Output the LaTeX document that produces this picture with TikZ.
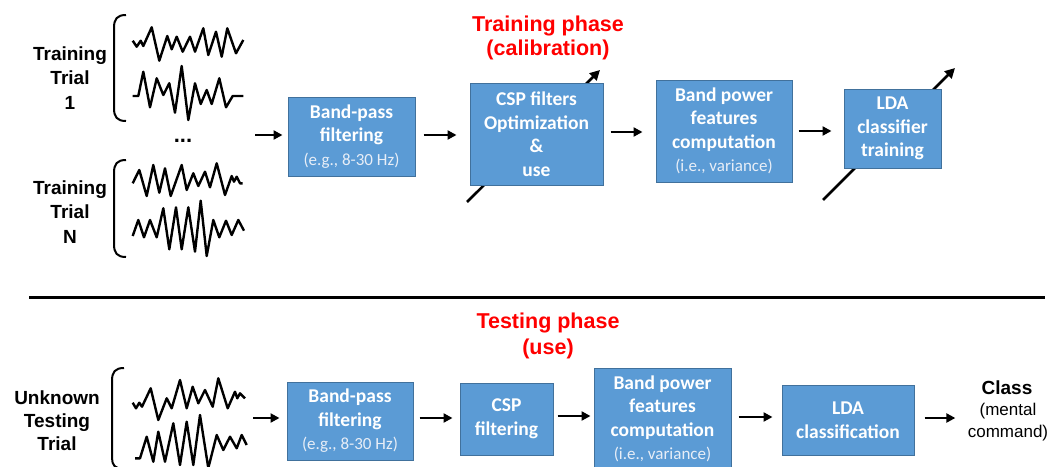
\documentclass[tikz,border=0pt]{standalone}
\usepackage{fontspec}
\setmainfont{Liberation Sans}
\newfontfamily\boxfnt{Carlito}
\usetikzlibrary{arrows.meta}
\definecolor{boxblue}{RGB}{91,155,213}
\definecolor{boxedge}{RGB}{65,113,156}
\definecolor{parenc}{RGB}{232,238,247}
\definecolor{phasered}{RGB}{255,0,0}
\newcommand{\pline}[1]{{\mdseries\fontsize{17}{23.5}\selectfont\color{parenc}#1}}
\tikzset{
  blk/.style={draw=boxedge, line width=1pt, fill=boxblue, text=white, align=center,
    inner sep=0pt, font=\boxfnt\bfseries\fontsize{19.5}{23.5}\selectfont},
  arr/.style={line width=2.8pt, -{Triangle[length=9pt,width=9pt]}},
  diag/.style={line width=2.6pt, -{Triangle[length=10pt,width=10pt]}},
  wave/.style={line width=2.4pt, line join=round},
  brk/.style={line width=2pt},
  lbl/.style={font=\bfseries\fontsize{19}{24.5}\selectfont, align=center},
  phase/.style={font=\bfseries\fontsize{21.5}{24}\selectfont, align=center, text=phasered},
}
\begin{document}
\begin{tikzpicture}[x=1pt,y=-1pt]
\useasboundingbox (0,0) rectangle (1049,466);
\fill[white] (0,0) rectangle (1049,466);

% ---------- training phase ----------
\node[lbl] (t1) at (70,78) {Training\\Trial\\1};
\node[lbl] (tn) at (70,212) {Training\\Trial\\N};
\node[font=\bfseries\fontsize{22}{24}\selectfont] (dots) at (183,141) {...};

\draw[brk] (126,15) .. controls (117,15) and (114,19) .. (114,28) -- (114,108) .. controls (114,117) and (117,121) .. (126,121);
\draw[brk] (126,160) .. controls (117,160) and (114,164) .. (114,173) -- (114,244) .. controls (114,253) and (117,257) .. (126,257);

\draw[wave] (132.7,40.7) -- (136.7,46.7) -- (140.7,40.7) -- (143.3,46) -- (151.7,27.3) -- (159.3,60.7) -- (167.3,36) -- (171.7,49.3) -- (176.7,36.7) -- (182.7,51.7) -- (190,36.7) -- (195,51.7) -- (203.3,28.3) -- (208.3,55) -- (216,31.7) -- (221.7,56.7) -- (227.3,28.3) -- (236,53.3) -- (243.3,40);
\draw[wave] (132.7,96) -- (138.3,96) -- (143.3,71.7) -- (150,107.3) -- (156.7,78.3) -- (163.3,95) -- (169.3,83.3) -- (175,112.7) -- (181.7,66) -- (188.3,120) -- (195,83.3) -- (200.7,104) -- (206.7,90) -- (211.7,104) -- (219.3,78.3) -- (226,107.3) -- (232.7,96) -- (243.3,96);
\draw[wave] (132.7,183.3) -- (139.3,170) -- (146.7,196) -- (153.3,165) -- (159.3,192.7) -- (165,168.3) -- (170.7,196) -- (181.7,165) -- (186.7,190) -- (193.3,173.3) -- (198.3,186) -- (205,171.7) -- (210,187.3) -- (216.7,163.3) -- (225,195) -- (231.7,176) -- (234,181.7) -- (236.7,176.7) -- (240,183.3) -- (242.7,183.3);
\draw[wave] (132.7,236) -- (138.3,220) -- (144,237.3) -- (150,220) -- (156.7,237.3) -- (163.3,208.3) -- (169.3,249.3) -- (176,207.3) -- (181.7,249.3) -- (188.3,207.3) -- (195,251.7) -- (200.7,200.7) -- (206.7,256) -- (213.3,220) -- (219.3,237.3) -- (226,220.7) -- (231.7,235) -- (238.3,220) -- (244,230.7);

\node[phase] (tp) at (548,38) {Training phase\\(calibration)};

\coordinate (d1s) at (467,202);
\coordinate (d1e) at (600,70);
\coordinate (d2s) at (823,200);
\coordinate (d2e) at (955,68);
\draw[diag] (d1s) -- (d1e);
\draw[diag] (d2s) -- (d2e);

\node[blk, minimum width=127pt, minimum height=79pt] (bp1) at (351.5,136.5) {Band-pass\\filtering\\\pline{(e.g., 8-30 Hz)}};
\node[blk, minimum width=133pt, minimum height=102pt] (csp1) at (536.5,134) {CSP filters\\Optimization\\\&\\use};
\node[blk, minimum width=136pt, minimum height=102pt] (bpw1) at (724,131) {Band power\\features\\computation\\\pline{(i.e., variance)}};
\node[blk, minimum width=97pt, minimum height=79pt] (lda1) at (892.5,128.5) {LDA\\classifier\\training};

\coordinate (sig1) at (255,135);
\draw[arr] (sig1) -- ([xshift=-5pt]sig1 -| bp1.west);
\draw[arr, shorten <=8pt, shorten >=13pt] (bp1.east |- 0,135) -- (csp1.west |- 0,135);
\draw[arr, shorten <=7pt, shorten >=13pt] (csp1.east |- 0,132) -- (bpw1.west |- 0,132);
\draw[arr, shorten <=6pt, shorten >=12pt] (bpw1.east |- 0,131) -- (lda1.west |- 0,131);

% ---------- separator ----------
\coordinate (sepL) at (29,297);
\coordinate (sepR) at (1045,297);
\draw[line width=3pt] (sepL) -- (sepR);

% ---------- testing phase ----------
\node[phase, font=\bfseries\fontsize{21.5}{26}\selectfont] (tsp) at (548,336) {Testing phase\\(use)};

\node[lbl, font=\bfseries\fontsize{19}{23}\selectfont] (ut) at (57,421) {Unknown\\Testing\\Trial};
\draw[brk] (124,368) .. controls (115,368) and (112,372) .. (112,381) -- (112,458) .. controls (112,465) and (115,469) .. (124,469);
\draw[wave] (132.7,402.7) -- (136,408.3) -- (139.3,402.7) -- (142,406.7) -- (150.7,388.3) -- (158.3,420) -- (166.7,398.3) -- (171.7,408.3) -- (180,380) -- (186.7,408.3) -- (192.7,386.7) -- (198.3,403.3) -- (205,390) -- (212.7,406.7) -- (218.3,378.3) -- (227.7,408.3) -- (235,391.7) -- (237.3,398.3) -- (240,393.3) -- (245,398.3);
\draw[wave] (135,458.3) -- (140,458.3) -- (146.7,436.7) -- (153.3,461.7) -- (158.3,431.7) -- (165,461.7) -- (173.3,423.3) -- (180,465) -- (186.7,421.7) -- (193.3,465) -- (200,415) -- (208.3,468) -- (216.7,435) -- (223.3,450) -- (230,436.7) -- (236.7,448.3) -- (241.7,435) -- (246.7,445);

\node[blk, minimum width=126pt, minimum height=78pt] (bp2) at (350,421) {Band-pass\\filtering\\\pline{(e.g., 8-30 Hz)}};
\node[blk, minimum width=93pt, minimum height=72pt] (csp2) at (506.5,419) {CSP\\filtering};
\node[blk, minimum width=137pt, minimum height=102pt] (bpw2) at (662.5,419) {Band power\\features\\computation\\\pline{(i.e., variance)}};
\node[blk, minimum width=132pt, minimum height=70pt] (lda2) at (848,420) {LDA\\classification};

\node[font=\bfseries\fontsize{19}{22}\selectfont] (cls) at (1007,388) {Class};
\node[font=\fontsize{17}{22}\selectfont, align=center] (cmd) at (1008,422) {(mental\\command)};

\coordinate (sig2) at (253,418);
\draw[arr] (sig2) -- ([xshift=-7pt]sig2 -| bp2.west);
\draw[arr, shorten <=6pt, shorten >=7pt] (bp2.east |- 0,418) -- (csp2.west |- 0,418);
\draw[arr, shorten <=4pt, shorten >=3pt] (csp2.east |- 0,416) -- (bpw2.west |- 0,416);
\draw[arr, shorten <=7pt, shorten >=9pt] (bpw2.east |- 0,417) -- (lda2.west |- 0,417);
\draw[arr, shorten <=10pt, shorten >=9pt] (lda2.east |- 0,418) -- (cmd.west |- 0,418);
\end{tikzpicture}
\end{document}
